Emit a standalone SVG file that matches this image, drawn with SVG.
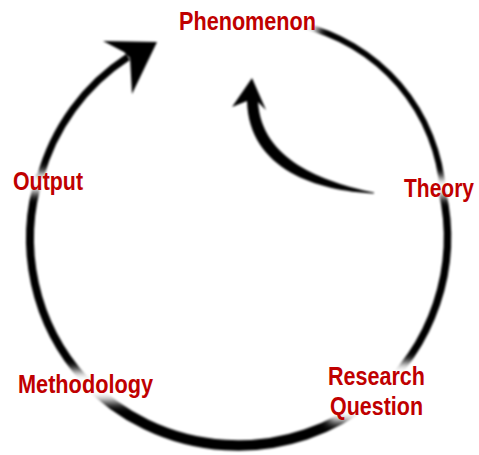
<svg xmlns="http://www.w3.org/2000/svg" width="479" height="455" viewBox="0 0 479 455">
<style>
.lbl{font-family:"Liberation Sans",Arial,sans-serif;font-weight:bold;font-size:26px;fill:#C00000}
.arc{fill:none;stroke:#000;stroke-linecap:butt}
.ink{fill:#000}
</style>
<defs>
<filter id="soft" x="-10%" y="-10%" width="120%" height="120%"><feGaussianBlur stdDeviation="0.8"/></filter>
<filter id="fade" x="-50%" y="-50%" width="200%" height="200%"><feGaussianBlur stdDeviation="5"/></filter>
<mask id="gaps" maskUnits="userSpaceOnUse" x="0" y="0" width="479" height="455">
<rect x="0" y="0" width="479" height="455" fill="#fff"/>
<g fill="#000" filter="url(#fade)">
<rect x="168" y="0" width="150" height="37"/>
<rect x="400" y="177" width="79" height="20"/>
<rect x="328" y="362" width="110" height="60"/>
<rect x="12" y="370" width="148" height="32"/>
<rect x="6" y="172" width="86" height="21"/>
</g>
</mask>
</defs>
<rect width="479" height="455" fill="#fff"/>
<g id="connectors" filter="url(#soft)">
<g mask="url(#gaps)">
<path class="arc" stroke-width="6" d="M300,25 A184,184 0 0 1 443,192"/>
<path class="arc" stroke-width="7.5" d="M442,190 A209,209 0 0 1 372,398"/>
<path class="arc" stroke-width="10.5" d="M372,398 A212,212 0 0 1 85,380"/>
<path class="arc" stroke-width="8" d="M85,380 A209,209 0 0 1 40,175"/>
<path class="arc" stroke-width="7" d="M40,178 A209,209 0 0 1 128,57"/>
</g>
<polygon class="ink" points="157,42 132,94 130,58 124,52 103,41"/>
<path class="ink" d="M374,192.5 C323,182 261,160 258,101 L247,101 C249,170 318,191 374,193.5 Z"/>
<polygon class="ink" points="252,78 266,110 257,101 247,101 232,107"/>
</g>
<g id="node-phenomenon"><text class="lbl" x="179" y="30" textLength="137" lengthAdjust="spacingAndGlyphs">Phenomenon</text></g>
<g id="node-theory"><text class="lbl" x="404" y="197" textLength="70" lengthAdjust="spacingAndGlyphs">Theory</text></g>
<g id="node-research-question"><text class="lbl" x="328" y="385" textLength="97" lengthAdjust="spacingAndGlyphs">Research</text><text class="lbl" x="330" y="415" textLength="93" lengthAdjust="spacingAndGlyphs">Question</text></g>
<g id="node-methodology"><text class="lbl" x="18" y="393" textLength="135" lengthAdjust="spacingAndGlyphs">Methodology</text></g>
<g id="node-output"><text class="lbl" x="13" y="190" textLength="70" lengthAdjust="spacingAndGlyphs">Output</text></g>
</svg>
